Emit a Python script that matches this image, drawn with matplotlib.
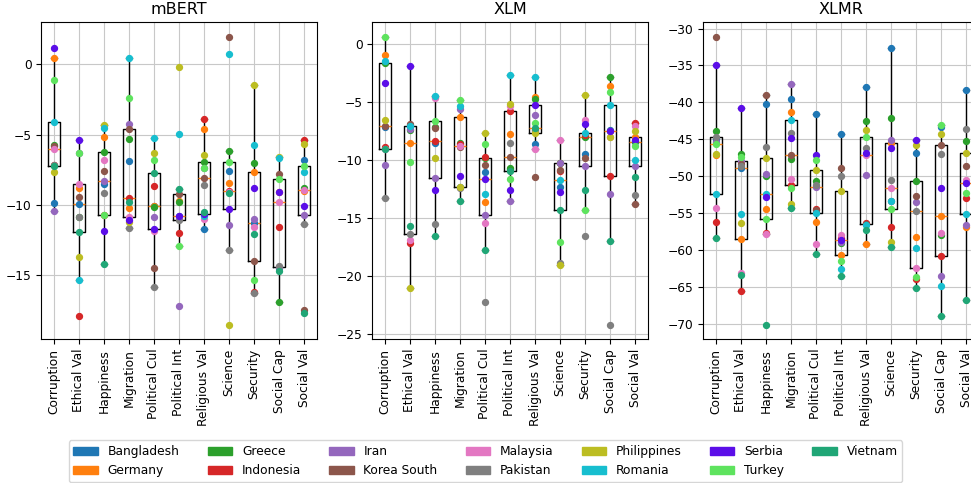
import matplotlib
matplotlib.use("Agg")
import matplotlib.pyplot as plt
from matplotlib.patches import Patch

categories = ["Corruption", "Ethical Val", "Happiness", "Migration", "Political Cul",
              "Political Int", "Religious Val", "Science", "Security", "Social Cap", "Social Val"]
countries = ["Bangladesh", "Germany", "Greece", "Indonesia", "Iran", "Korea South", "Malaysia",
             "Pakistan", "Philippines", "Romania", "Serbia", "Turkey", "Vietnam"]
colors = ["#1f77b4", "#ff7f0e", "#2ca02c", "#d62728", "#9467bd", "#8c564b", "#e377c2",
          "#7f7f7f", "#bcbd22", "#17becf", "#5b0ee8", "#5ee35e", "#20a676"]

# one row per category, values in country order
mbert = [
    [-9.83, 0.47, -5.73, -7.15, -10.4, -5.8, -6.0, -7.18, -7.68, -4.12, 1.16, -1.14, -7.2],
    [-9.9, -8.79, -10.83, -17.87, -6.3, -9.45, -8.5, -10.85, -13.72, -15.36, -5.38, -6.28, -11.92],
    [-8.51, -5.17, -6.21, -10.72, -8.27, -7.61, -6.78, -9.12, -4.34, -4.5, -11.82, -10.71, -14.19],
    [-6.85, -10.19, -5.31, -9.53, -4.27, -4.6, -10.83, -11.66, -11.2, 0.47, -11.07, -2.37, -9.76],
    [-10.05, -10.1, -10.12, -8.63, -10.88, -14.48, -11.87, -15.83, -6.33, -5.24, -11.68, -6.78, -7.7],
    [-10.8, -9.7, -9.76, -11.97, -17.2, -9.19, -10.95, -11.09, -0.17, -4.95, -10.78, -12.91, -8.86],
    [-11.68, -4.62, -6.94, -3.89, -7.4, -8.06, -11.02, -8.55, -6.47, -10.78, -10.66, -7.37, -10.5],
    [-7.61, -8.41, -6.14, -8.98, -11.45, 1.97, -9.1, -13.2, -18.5, 0.76, -10.26, -6.94, -9.17],
    [-11.3, -7.65, -7.01, -16.2, -11.02, -13.96, -11.59, -16.26, -1.49, -5.73, -8.77, -15.31, -12.09],
    [-14.45, -9.05, -16.9, -11.54, -14.4, -7.8, -9.81, -14.36, -6.62, -6.64, -9.1, -8.18, -14.69],
    [-6.82, -9.0, -8.8, -5.36, -10.69, -17.46, -8.96, -11.35, -5.64, -7.65, -10.05, -7.25, -17.65],
]
xlm = [
    [-7.14, -0.92, -1.67, -8.9, -10.45, -7.09, -9.1, -13.25, -6.57, -1.44, -3.4, 0.63, -9.07],
    [-7.12, -8.53, -7.45, -17.14, -7.37, -6.91, -16.94, -16.42, -21.05, -7.09, -1.93, -10.22, -15.7],
    [-8.58, -4.61, -7.14, -8.35, -11.55, -7.29, -4.65, -15.55, -9.88, -4.49, -12.56, -6.68, -16.59],
    [-12.38, -6.31, -8.53, -8.64, -5.62, -8.85, -8.81, -12.42, -12.33, -5.33, -11.41, -4.84, -13.51],
    [-11.09, -13.68, -9.8, -9.79, -14.78, -10.45, -15.44, -22.3, -7.66, -12.93, -11.66, -8.61, -17.74],
    [-10.8, -7.75, -10.74, -5.76, -13.51, -9.79, -5.36, -8.58, -5.16, -2.68, -12.62, -11.69, -11.0],
    [-8.61, -4.55, -4.72, -7.4, -6.11, -11.52, -9.04, -7.5, -7.66, -2.82, -5.3, -6.85, -7.26],
    [-12.36, -10.28, -10.25, -10.95, -10.3, -10.87, -8.32, -18.87, -19.07, -11.78, -12.76, -17.08, -14.34],
    [-9.53, -7.95, -8.0, -7.9, -10.57, -9.88, -6.57, -16.56, -4.38, -7.72, -6.91, -14.29, -12.62],
    [-7.42, -3.66, -2.82, -11.4, -12.93, -7.48, -8.05, -24.22, -8.0, -5.3, -7.52, -4.15, -17.02],
    [-8.44, -8.0, -8.35, -6.85, -10.51, -13.8, -7.09, -13.05, -7.49, -10.02, -8.29, -8.78, -11.52],
]
xlmr = [
    [-45.0, -47.1, -43.83, -56.22, -45.3, -31.09, -54.28, -44.74, -47.04, -52.38, -34.97, -45.6, -58.3],
    [-48.85, -58.53, -47.0, -65.53, -47.99, -48.31, -63.05, -48.58, -56.27, -55.09, -40.76, -47.36, -63.41],
    [-40.17, -54.41, -49.94, -57.62, -49.67, -38.95, -57.76, -46.05, -47.5, -52.42, -52.87, -55.81, -70.1],
    [-39.49, -41.35, -47.72, -51.2, -37.55, -47.13, -50.43, -44.15, -53.82, -42.34, -44.83, -51.56, -54.32],
    [-41.53, -56.13, -50.71, -54.37, -51.52, -54.55, -59.2, -51.2, -49.17, -54.95, -47.18, -47.86, -60.56],
    [-44.33, -60.6, -59.0, -58.3, -58.9, -48.9, -57.98, -49.98, -52.02, -62.55, -58.65, -61.51, -63.5],
    [-37.91, -59.16, -42.48, -56.27, -49.85, -56.45, -47.13, -46.23, -43.79, -56.54, -46.82, -44.69, -57.31],
    [-32.67, -45.5, -42.16, -56.9, -45.15, -53.4, -51.61, -50.52, -58.93, -53.37, -46.14, -54.46, -59.52],
    [-46.86, -58.16, -50.66, -63.95, -53.46, -52.65, -62.41, -54.68, -45.78, -59.7, -45.1, -63.59, -65.08],
    [-43.34, -55.36, -57.98, -60.79, -63.45, -45.78, -57.62, -46.95, -44.29, -64.81, -51.61, -43.02, -68.92],
    [-38.27, -56.94, -45.19, -52.97, -56.67, -48.58, -50.52, -43.65, -46.91, -55.14, -50.89, -52.33, -66.71],
]

models = ["mBERT", "XLM", "XLMR"]
panels = [mbert, xlm, xlmr]
lefts = [0.0425, 0.3834, 0.7243]

fig = plt.figure(figsize=(9.71, 4.83), dpi=100)
pos = list(range(1, len(categories) + 1))

for name, data, left in zip(models, panels, lefts):
    ax = fig.add_axes([left, 0.298, 0.2836, 0.656])
    ax.boxplot(data, positions=pos, widths=0.5, showfliers=False)
    for j, country in enumerate(countries):
        vals = [row[j] for row in data]
        ax.scatter(pos, vals, color=colors[j], s=18, zorder=3)
    ax.set_xticks(pos)
    ax.set_xticklabels(categories, rotation=90, fontsize=8.8)
    ax.tick_params(axis="y", labelsize=8.8)
    ax.set_title(name, fontsize=11.5)
    ax.grid(True, color="#c8c8c8", linewidth=0.8)

handles = [Patch(color=c, label=n) for c, n in zip(colors, countries)]
fig.legend(handles=handles, loc="center", bbox_to_anchor=(0.5, 0.0455), ncol=7,
           fontsize=8.8, handlelength=2.0, handleheight=0.6, columnspacing=2.3)

fig.savefig("out.png", dpi=100)
